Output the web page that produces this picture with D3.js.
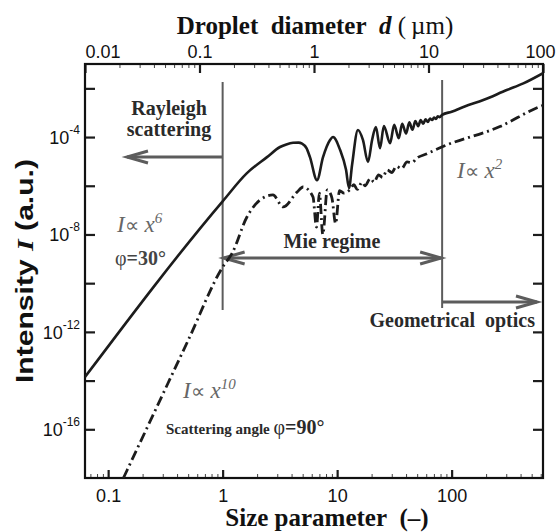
<!DOCTYPE html>
<html lang="en">
<head>
<meta charset="UTF-8">
<title>Scattered intensity vs size parameter</title>
<script src="https://cdnjs.cloudflare.com/ajax/libs/d3/7.8.5/d3.min.js"></script>
<style>
  body { margin: 0; background: #fff; }
  svg { display: block; }
  .sans { font-family: "Liberation Sans", Arial, sans-serif; }
  .serif { font-family: "Liberation Serif", "Times New Roman", serif; }
</style>
</head>
<body>
<div id="chart"></div>
<script>
// ---- values ----
// bottom axis: size parameter x, top axis: droplet diameter d (um)
var xTickLabels = [0.1, 1, 10, 100];
var dTickLabels = [0.01, 0.1, 1, 10, 100];
// left axis: ticks every 2 decades, labels every 4
var yTickExp = [-2, -4, -6, -8, -10, -12, -14, -16];
var yLabelExp = [-4, -8, -12, -16];

// solid curve, phi = 30 deg
var solidX = [0.0628, 1.0, 1.63, 2.44, 3.17, 3.6, 4.12, 4.6, 4.94, 5.4, 5.79, 6.67, 7.53, 8.67, 9.2,
  10.6, 11.96, 12.7, 13.5, 15.2, 16.8, 18.6, 20.2, 21.8, 23.7, 25.6, 29, 31.5, 34.5,
  37, 40, 42.7, 45.5, 48.2, 51, 53.7, 56.5, 59.2, 62, 64.7, 67.5, 70.2, 73, 75.7,
  78.5, 82.6, 100, 130, 189, 303, 423, 628];
var solidI = [1.4e-14, 2.3e-7, 3.3e-6, 1.5e-5, 3.9e-5, 5.0e-5, 5.8e-5, 5.9e-5, 5.4e-5, 3.5e-5, 1.5e-5, 1.7e-6,
  1.5e-5, 7.6e-5, 1.0e-4, 3.0e-5, 4.5e-6, 8.1e-7, 7.1e-6, 1.95e-4, 7.6e-5, 9.5e-6,
  7.6e-5, 2.6e-4, 3.5e-5, 2.8e-4, 5.6e-5, 3.2e-4, 8.9e-5, 3.5e-4, 1.4e-4, 4.0e-4,
  2.0e-4, 4.5e-4, 2.8e-4, 5.0e-4, 3.5e-4, 5.4e-4, 4.2e-4, 5.8e-4, 5.0e-4, 6.3e-4,
  5.6e-4, 7.1e-4, 6.6e-4, 8.1e-4, 1.1e-3, 1.8e-3, 3.3e-3, 8.5e-3, 1.6e-2, 4.2e-2];

// dash-dot curve, phi = 90 deg
var dashX = [0.136, 0.5, 1.0, 1.21, 1.63, 2.12, 2.75, 3.37, 4.47, 5.04, 6.15, 6.6, 7.0,
  7.5, 8.2, 9.0, 9.7, 10.5, 11.5, 12.9, 14, 15, 16.5, 17.5, 19.5, 21, 23, 25, 27.3,
  30, 33, 36.5, 40.8, 45, 50, 60, 70, 81.9, 264, 592, 628];
var dashI = [1e-18, 4.5e-13, 4.6e-10, 1.7e-9, 5.2e-8, 2.6e-7, 4.2e-7, 1.35e-7, 5.5e-7,
  8.9e-7, 3.5e-7, 2.0e-8, 5.0e-7, 1.0e-8, 6.8e-7, 3.2e-7, 2.8e-8, 6.3e-7, 5.0e-7,
  6.8e-7, 1.1e-6, 7.1e-7, 1.4e-6, 1.0e-6, 2.0e-6, 1.4e-6, 2.8e-6, 2.2e-6, 4.5e-6,
  3.5e-6, 6.3e-6, 5.0e-6, 9.5e-6, 8.9e-6, 1.4e-5, 2.0e-5, 2.8e-5, 3.9e-5, 2.7e-4,
  1.8e-3, 2.0e-3];

// ---- layout ----
var W = 556, H = 532;
var margin = {top: 64, right: 13, bottom: 54, left: 85};
var width = W - margin.left - margin.right,
    height = H - margin.top - margin.bottom;

var svg = d3.select("#chart").append("svg")
    .attr("width", W).attr("height", H);
var g = svg.append("g")
    .attr("transform", "translate(" + margin.left + "," + margin.top + ")");

var x = d3.scaleLog().domain([0.0628, 628]).range([0, width]);
var xd = d3.scaleLog().domain([0.01, 100]).range([0, width]);
var y = d3.scaleLog().domain([1e-18, 1e-1]).range([height, 0]);

// minor ticks 2..9 of every decade inside the domain
function minors(scale) {
  var dom = scale.domain(), out = [];
  for (var e = -3; e <= 3; e++) {
    for (var k = 2; k <= 9; k++) {
      var v = k * Math.pow(10, e);
      if (v > dom[0] * 1.001 && v < dom[1] * 0.999) out.push(v);
    }
  }
  return out;
}

var dark = "#1c1c1c", grey = "#5c5c5c";

// bottom axis
g.append("g").attr("transform", "translate(0," + height + ")")
  .call(d3.axisBottom(x).tickValues(minors(x)).tickSize(-4).tickFormat(""))
  .call(function(a) { a.select(".domain").remove(); a.selectAll("line").attr("stroke", "#444"); });
g.append("g").attr("class", "sans").attr("transform", "translate(0," + height + ")")
  .call(d3.axisBottom(x).tickValues(xTickLabels).tickSize(-8).tickPadding(11).tickFormat(d3.format("")))
  .call(function(a) {
    a.select(".domain").remove();
    a.selectAll("line").attr("stroke", dark).attr("stroke-width", 2.2);
    a.selectAll("text").attr("font-size", 18).attr("fill", "#111").attr("font-family", null);
  });

// top axis (droplet diameter)
g.append("g")
  .call(d3.axisTop(xd).tickValues(minors(xd)).tickSize(-4).tickFormat(""))
  .call(function(a) { a.select(".domain").remove(); a.selectAll("line").attr("stroke", "#444"); });
g.append("g").attr("class", "sans")
  .call(d3.axisTop(xd).tickValues(dTickLabels).tickSize(-9).tickPadding(6).tickFormat(d3.format("")))
  .call(function(a) {
    a.select(".domain").remove();
    a.selectAll("line").attr("stroke", dark).attr("stroke-width", 2.2);
    a.selectAll("text").attr("font-size", 18).attr("fill", "#111").attr("font-family", null);
    a.selectAll(".tick").filter(function(d) { return d === 0.01; }).select("text")
      .attr("text-anchor", "start").attr("x", 0);
    a.selectAll(".tick").filter(function(d) { return d === 100; }).select("text")
      .attr("text-anchor", "end").attr("x", 12);
  });

// left and right axes
var yTicks = yTickExp.map(function(e) { return Math.pow(10, e); });
g.append("g")
  .call(d3.axisLeft(y).tickValues(yTicks).tickSize(-10).tickFormat(""))
  .call(function(a) { a.select(".domain").remove(); a.selectAll("line").attr("stroke", dark).attr("stroke-width", 2.2); });
g.append("g").attr("transform", "translate(" + width + ",0)")
  .call(d3.axisRight(y).tickValues(yTicks).tickSize(-10).tickFormat(""))
  .call(function(a) { a.select(".domain").remove(); a.selectAll("line").attr("stroke", dark).attr("stroke-width", 2.2); });

var yLab = g.append("g").attr("class", "sans").selectAll("text")
  .data(yLabelExp).enter().append("text")
  .attr("x", -5).attr("y", function(d) { return y(Math.pow(10, d)) + 7; })
  .attr("text-anchor", "end").attr("fill", "#111").attr("font-size", 18);
yLab.append("tspan").text("10");
yLab.append("tspan").attr("font-size", 12).attr("dy", -10).text(function(d) { return d; });

// frame
g.append("rect").attr("width", width).attr("height", height)
  .attr("fill", "none").attr("stroke", "#111").attr("stroke-width", 2.2);

// ---- annotations (regimes) ----
var ann = g.append("g").attr("stroke", grey).attr("fill", "none");
var x1 = x(1), x2 = x(82.6);
ann.append("line").attr("x1", x1).attr("x2", x1).attr("y1", 18).attr("y2", 246).attr("stroke-width", 2);
ann.append("line").attr("x1", x2).attr("x2", x2).attr("y1", 16).attr("y2", 244).attr("stroke-width", 2);

function arrow(xa, xb, yy, headA, headB) {
  ann.append("line").attr("x1", xa).attr("x2", xb).attr("y1", yy).attr("y2", yy).attr("stroke-width", 3);
  function head(tx, dir) {
    ann.append("path")
      .attr("d", "M" + (tx + dir * 21) + "," + (yy - 6) + "L" + tx + "," + yy + "L" + (tx + dir * 21) + "," + (yy + 6))
      .attr("stroke-width", 3).attr("stroke-linejoin", "miter");
  }
  if (headA) head(xa, 1);
  if (headB) head(xb, -1);
}
arrow(42, x1, 93, true, false);           // Rayleigh
arrow(x1 + 1, x2 - 1, 194, true, true);   // Mie regime
arrow(x2, 452, 238, false, true);         // geometrical optics

// ---- curves ----
var line = d3.line()
  .x(function(d) { return x(d[0]); })
  .y(function(d) { return y(d[1]); })
  .curve(d3.curveMonotoneX);

var solid = solidX.map(function(v, i) { return [v, solidI[i]]; });
var dashed = dashX.map(function(v, i) { return [v, dashI[i]]; });

g.append("clipPath").attr("id", "plotclip").append("rect")
  .attr("width", width).attr("height", height);

g.append("path").datum(solid)
  .attr("clip-path", "url(#plotclip)")
  .attr("d", line).attr("fill", "none").attr("stroke", dark).attr("stroke-width", 2.6);
g.append("path").datum(dashed)
  .attr("clip-path", "url(#plotclip)")
  .attr("d", line).attr("fill", "none").attr("stroke", dark).attr("stroke-width", 2.8)
  .attr("stroke-dasharray", "10,4,2,4");

// ---- texts ----
function txt(xx, yy, size, weight, fill, anchor) {
  return svg.append("text").attr("class", "serif").attr("x", xx).attr("y", yy)
    .attr("font-size", size).attr("font-weight", weight).attr("fill", fill)
    .attr("text-anchor", anchor || "start");
}
txt(169, 115, 20, "bold", "#2a2a2a", "middle").text("Rayleigh");
txt(169, 136, 20, "bold", "#2a2a2a", "middle").text("scattering");
txt(332, 248, 20, "bold", "#2a2a2a", "middle").text("Mie regime");
txt(535, 327, 20, "bold", "#2a2a2a", "end").text("Geometrical\u00a0 optics");

function prop(xx, yy, power) {
  var t = txt(xx, yy, 23, "normal", "#666", null).attr("font-style", "italic");
  t.append("tspan").text("I");
  t.append("tspan").attr("font-style", "normal").attr("font-size", 20).text("\u221d");
  t.append("tspan").text(" x");
  t.append("tspan").attr("font-size", 15).attr("dy", -9).text(power);
}
prop(117, 232, "6");
prop(457, 178, "2");
prop(183, 398, "10");

var p30 = txt(115, 265, 20, "bold", "#444");
p30.append("tspan").attr("font-weight", "normal").text("\u03c6");
p30.append("tspan").text("=30\u00b0");

var p90 = txt(166, 434, 15, "bold", "#2a2a2a");
p90.append("tspan").text("Scattering angle ");
p90.append("tspan").attr("font-size", 20).attr("font-weight", "normal").text("\u03c6");
p90.append("tspan").attr("font-size", 20).text("=90\u00b0");

// axis titles
var tt = txt(315, 34, 25, "bold", "#111", "middle");
tt.append("tspan").text("Droplet\u00a0 diameter\u00a0 ");
tt.append("tspan").attr("font-style", "italic").text("d");
tt.append("tspan").attr("font-weight", "normal").text(" (\u2009\u00b5m)");

txt(327, 526, 25, "bold", "#111", "middle").text("Size parameter\u00a0 (\u2013)");

// y title: glyphs are stretched along the axis in the figure
var yt = svg.append("text").attr("class", "sans")
  .attr("transform", "translate(33," + (margin.top + height / 2) + ") rotate(-90)")
  .attr("text-anchor", "middle").attr("font-size", 23).attr("font-weight", "bold").attr("fill", "#111")
  .attr("textLength", 224).attr("lengthAdjust", "spacingAndGlyphs");
yt.append("tspan").text("Intensity ");
yt.append("tspan").attr("font-family", "'Liberation Serif', serif").attr("font-style", "italic").text("I");
yt.append("tspan").text(" (a.u.)");
</script>
</body>
</html>
